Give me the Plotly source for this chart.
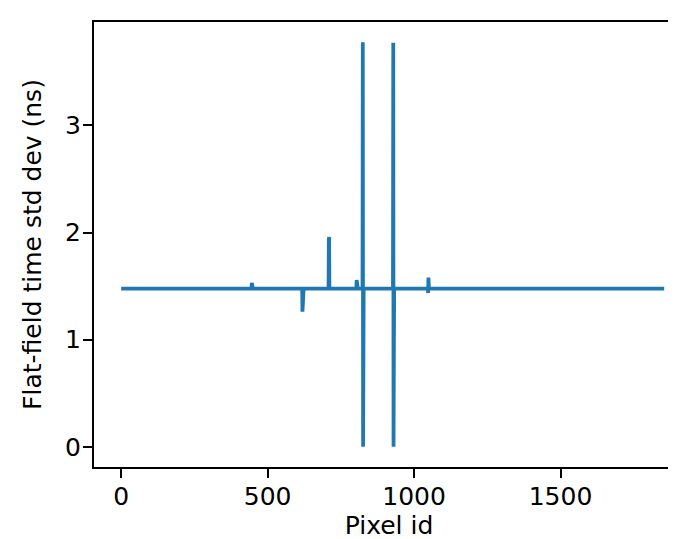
import plotly.graph_objects as go

# ---- data ----
pixel_count = 1855
baseline_std = 1.476
anomaly_ids = [446, 619, 709, 710, 804, 825, 826, 929, 930, 1048, 1049]
anomaly_vals = [1.53, 1.26, 1.94, 1.957, 1.556, 3.776, 0.0, 3.77, 0.0, 1.435, 1.58]
x_tick_vals = [0, 500, 1000, 1500]
y_tick_vals = [0, 1, 2, 3]

pixel_ids = list(range(pixel_count))
std_dev = [baseline_std] * pixel_count
for pid, val in zip(anomaly_ids, anomaly_vals):
    std_dev[pid] = val

fig = go.Figure()
fig.add_trace(go.Scatter(
    x=pixel_ids, y=std_dev, mode="lines",
    line=dict(color="#1f77b4", width=3.75),
    showlegend=False,
))

axis_common = dict(
    showgrid=False, zeroline=False,
    showline=True, linecolor="black", linewidth=2,
    ticks="outside", ticklen=9, tickwidth=2, tickcolor="black",
    ticklabelstandoff=-3,
    tickfont=dict(family="DejaVu Sans", size=25, color="black"),
)

fig.update_layout(
    width=676, height=539,
    margin=dict(l=86, r=0, t=14, b=80),
    paper_bgcolor="white", plot_bgcolor="white",
    font=dict(family="DejaVu Sans", size=25, color="black"),
    xaxis=dict(
        range=[-92.7, 1921.6], tickvals=x_tick_vals, mirror=True,
        title=dict(text="Pixel id", font=dict(size=25), standoff=4),
        **axis_common,
    ),
    yaxis=dict(
        range=[-0.1888, 3.9648], tickvals=y_tick_vals, mirror=False,
        title=dict(text="Flat-field time std dev (ns)", font=dict(size=25), standoff=16),
        **axis_common,
    ),
)

fig.write_html("out.html")
